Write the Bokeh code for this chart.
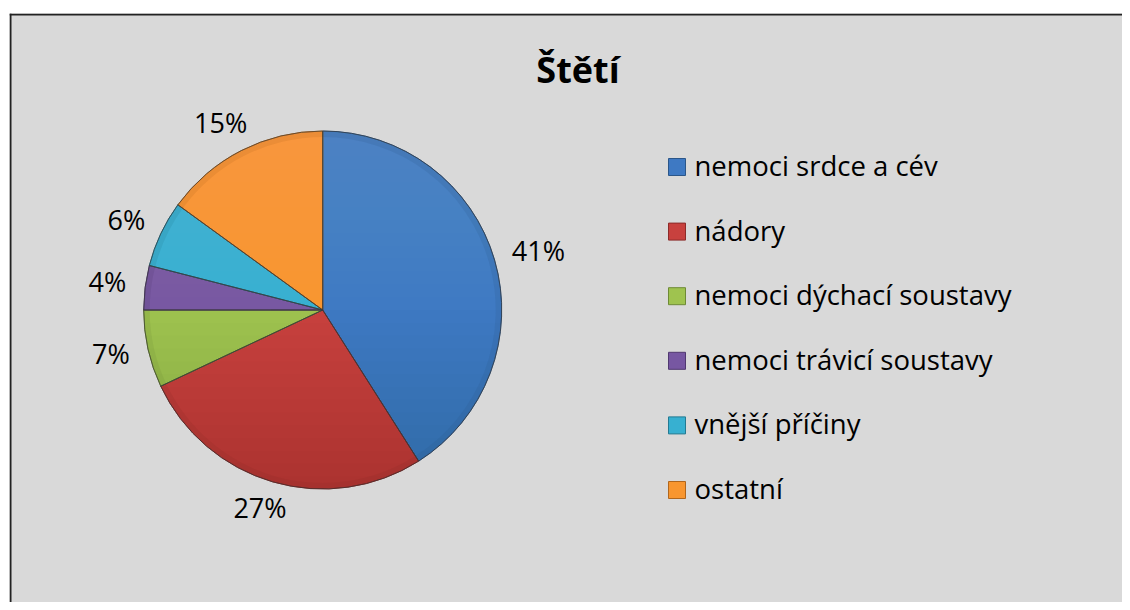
import math
from bokeh.plotting import figure
from bokeh.models import Range1d, Span, ColumnDataSource
from bokeh.core.properties import value
from bokeh.embed import file_html
from bokeh.resources import INLINE

# ---- data ----
title_text = "Štětí"
categories = ["nemoci srdce a cév", "nádory", "nemoci dýchací soustavy",
              "nemoci trávicí soustavy", "vnější příčiny", "ostatní"]
shares = [41, 27, 7, 4, 6, 15]
colors = ["#3E79C3", "#C8413E", "#9FC34F", "#7757A2", "#37B0D1", "#F8962F"]
edge_colors = ["#2B5689", "#8C2B29", "#6E8A35", "#503870", "#237A92", "#B0661C"]

FONT = "Open Sans"

W, H = 1122, 602
ML, MT = 9, 13
FW, FH = W - ML, H - MT
p = figure(width=W, height=H, output_backend="svg", toolbar_location=None,
           x_range=Range1d(0, FW), y_range=Range1d(0, FH),
           min_border_left=ML, min_border_top=MT, min_border_right=0, min_border_bottom=0)
p.axis.visible = False
p.grid.visible = False
p.outline_line_color = None
p.background_fill_color = "#D9D9D9"
p.border_fill_color = "white"

# chart border (left and top; right/bottom lie outside the window)
p.add_layout(Span(location=1, dimension="height", line_color="#222222", line_width=2))
p.add_layout(Span(location=FH - 1, dimension="width", line_color="#222222", line_width=2))

# ---- pie ----
cx, cy, R = 313.2, 292.5, 179.0
total = float(sum(shares))
starts, ends, mids = [], [], []
cum = 0.0
for s in shares:
    a0 = math.pi / 2 - 2 * math.pi * cum / total
    cum += s
    a1 = math.pi / 2 - 2 * math.pi * cum / total
    starts.append(a0)
    ends.append(a1)
    mids.append((a0 + a1) / 2)

src = ColumnDataSource(dict(start=starts, end=ends, color=colors, edge=edge_colors,
                            x=[cx] * len(shares), y=[cy] * len(shares)))
p.wedge(x="x", y="y", radius=R, start_angle="start", end_angle="end", direction="clock",
        fill_color="color", line_color="edge", line_width=1, source=src)

# vertical shading overlay (lighter top, darker bottom) – decorative, stacked chord caps
xs_l, ys_l, fc, fa = [], [], [], []
M = 14
for k in range(M):
    a = math.asin(k / M)
    angs = [a + (math.pi - 2 * a) * j / 60 for j in range(61)]
    xs_l.append([cx + R * math.cos(t) for t in angs])
    ys_l.append([cy + R * math.sin(t) for t in angs])
    fc.append("white"); fa.append(0.009)
for k in range(M):
    a = math.asin(k / M)
    angs = [-a - (math.pi - 2 * a) * j / 60 for j in range(61)]
    xs_l.append([cx + R * math.cos(t) for t in angs])
    ys_l.append([cy + R * math.sin(t) for t in angs])
    fc.append("black"); fa.append(0.009)
p.patches(xs=xs_l, ys=ys_l, fill_color=fc, fill_alpha=fa, line_color=None)

# bevel-ish rim
p.annular_wedge(x="x", y="y", inner_radius=R - 6, outer_radius=R, start_angle="start",
                end_angle="end", direction="clock", fill_color="edge", fill_alpha=0.18,
                line_color=None, source=src)
p.wedge(x="x", y="y", radius=R, start_angle="start", end_angle="end", direction="clock",
        fill_color=None, line_color="#3A3A3A", line_alpha=0.6, line_width=1, source=src)

# ---- data labels ----
lab_size = 27
cap = 0.714 * lab_size
lx, ly, lt = [], [], []
for s, m in zip(shares, mids):
    txt = f"{s}%"
    hw = 0.5 * (0.572 * (len(txt) - 1) + 0.833) * lab_size
    hh = cap / 2
    ux, uy = math.cos(m), math.sin(m)
    lx.append(cx + (R + 19) * ux + hw * ux)
    ly.append(cy + (R + 19) * uy + hh * uy + 2)
    lt.append(txt)
p.text(x=lx, y=ly, text=lt, text_align="center", text_baseline="middle",
       text_font=value(FONT), text_font_size=f"{lab_size}px", text_color="black")

# ---- title ----
p.text(x=[568.5], y=[533], text=[title_text], text_align="center", text_baseline="middle",
       text_font=value(FONT), text_font_size="36px", text_font_style="bold", text_color="black")

# ---- legend ----
row0, step = H - 166.5, 64.6
mx = 676.5 - ML
leg_y = [row0 - i * step for i in range(len(categories))]
p.rect(x=[mx] * len(categories), y=leg_y, width=17, height=17, width_units="screen",
       height_units="screen", fill_color=colors, line_color=edge_colors, line_width=1)
p.text(x=[694 - ML] * len(categories), y=[v + 1.5 for v in leg_y], text=categories,
       text_align="left", text_baseline="middle", text_font=value(FONT),
       text_font_size="27.5px", text_color="black")

open("out.html", "w").write(file_html(p, INLINE))
